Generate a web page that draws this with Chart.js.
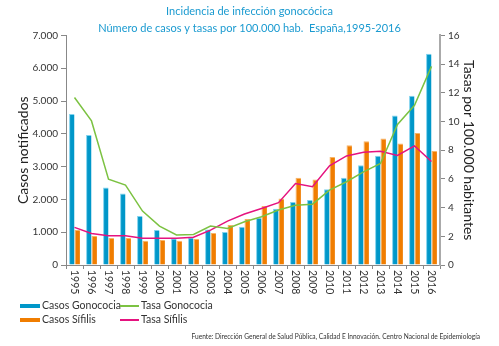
<!DOCTYPE html>
<html>
<head>
<meta charset="utf-8">
<script src="https://cdn.jsdelivr.net/npm/chart.js@4"></script>
<style>
  body { margin: 0; background: #fff; font-family: Lato, "DejaVu Sans", sans-serif; }
  #wrap { position: relative; width: 499px; height: 346px; }
  #legend { position: absolute; left: 20px; top: 299px; font-size: 10.5px; color: #333; }
  .item { position: absolute; white-space: nowrap; height: 13px; line-height: 13px; }
  .box { display: inline-block; width: 20px; height: 4px; vertical-align: middle; margin-right: 2px; }
  .ln { display: inline-block; width: 19px; height: 0; border-top: 2px solid; vertical-align: middle; margin-right: 2px; }
  #fuente { position: absolute; right: 19px; top: 332px; font-size: 6.6px; color: #333; }
</style>
</head>
<body>
<div id="wrap">
  <canvas id="grafico" width="499" height="346"></canvas>
  <div id="legend"></div>
  <div id="fuente">Fuente: Dirección General de Salud Pública, Calidad E Innovación. Centro Nacional de Epidemiología</div>
</div>
<script>
const anios = ['1995','1996','1997','1998','1999','2000','2001','2002','2003','2004','2005',
  '2006','2007','2008','2009','2010','2011','2012','2013','2014','2015','2016']
const casos_gonococia = [4600, 3960, 2364, 2181, 1491, 1065, 811, 842, 1086, 1004, 1166,
  1440, 1715, 1917, 1978, 2313, 2657, 3043, 3327, 4555, 5163, 6442]
const casos_sifilis = [1065, 883, 822, 822, 740, 761, 740, 791, 974, 1217, 1400,
  1795, 2030, 2657, 2608, 3296, 3652, 3774, 3855, 3702, 4027, 3478]
const tasa_gonococia = [11.67, 10.04, 5.98, 5.57, 3.76, 2.71, 2.09, 2.13, 2.71, 2.55, 3.01,
  3.36, 3.83, 4.17, 4.24, 5.22, 5.8, 6.49, 7.07, 9.79, 11.13, 13.84]
const tasa_sifilis = [2.62, 2.2, 2.04, 2.04, 1.86, 1.86, 1.86, 1.93, 2.43, 3.06, 3.55,
  3.94, 4.34, 5.68, 5.45, 6.91, 7.6, 7.86, 7.93, 7.63, 8.3, 7.21]

const azul = '#0097c9'
const naranja = '#f07d00'
const verde = '#7cc242'
const rosa = '#e5137f'
const fuente = 'Lato, "DejaVu Sans", sans-serif'

Chart.defaults.font.family = fuente
Chart.defaults.color = '#333'

// etiquetas del eje x giradas en sentido horario
const etiquetasX = {
    id: 'etiquetasX',
    afterDraw(chart) {
        const x = chart.scales.x
        const ctx = chart.ctx
        ctx.save()
        ctx.font = '10.5px ' + fuente
        ctx.fillStyle = '#333'
        ctx.textAlign = 'left'
        ctx.textBaseline = 'middle'
        anios.forEach((a, i) => {
            ctx.save()
            ctx.translate(x.getPixelForValue(i), x.top + 5)
            ctx.rotate(Math.PI / 2)
            ctx.fillText(a, 0, 0)
            ctx.restore()
        })
        ctx.restore()
    }
}

const ctx = document.getElementById('grafico').getContext('2d')
const chart = new Chart(ctx, {
    type: 'bar',
    data: {
        labels: anios,
        datasets: [{
            label: 'Casos Gonococia',
            data: casos_gonococia,
            backgroundColor: azul,
            borderColor: '#7fd2ee',
            borderWidth: { left: 1, top: 1, right: 0, bottom: 0 },
            categoryPercentage: 0.64,
            barPercentage: 1,
            order: 2,
            yAxisID: 'y'
        }, {
            label: 'Casos Sífilis',
            data: casos_sifilis,
            backgroundColor: naranja,
            borderColor: '#f7b466',
            borderWidth: { left: 1, top: 1, right: 0, bottom: 0 },
            categoryPercentage: 0.64,
            barPercentage: 1,
            order: 2,
            yAxisID: 'y'
        }, {
            type: 'line',
            label: 'Tasa Gonococia',
            data: tasa_gonococia,
            borderColor: verde,
            backgroundColor: verde,
            borderWidth: 1.5,
            pointRadius: 0,
            order: 0,
            yAxisID: 'y1'
        }, {
            type: 'line',
            label: 'Tasa Sífilis',
            data: tasa_sifilis,
            borderColor: rosa,
            backgroundColor: rosa,
            borderWidth: 1.5,
            pointRadius: 0,
            order: 0,
            yAxisID: 'y1'
        }]
    },
    options: {
        responsive: false,
        animation: false,
        events: [],
        layout: { padding: { left: 0, right: 0, top: 0, bottom: 51 } },
        plugins: {
            legend: { display: false },
            tooltip: { enabled: false },
            title: {
                display: true,
                text: 'Incidencia de infección gonocócica',
                color: '#1a9ad0',
                font: { size: 11, weight: 'normal' },
                padding: { top: 5, bottom: 2 }
            },
            subtitle: {
                display: true,
                text: 'Número de casos y tasas por 100.000 hab.  España,1995-2016',
                color: '#1a9ad0',
                font: { size: 11 },
                padding: { top: 2, bottom: 0 }
            }
        },
        scales: {
            x: {
                grid: { drawOnChartArea: false, color: '#888', tickLength: 4, offset: true },
                border: { color: '#888' },
                ticks: { display: false },
                afterFit(s) { s.height = 30 }
            },
            y: {
                position: 'left',
                min: 0,
                max: 7000,
                grid: { drawOnChartArea: false, color: '#888', tickLength: 5 },
                border: { color: '#888' },
                ticks: {
                    stepSize: 1000,
                    padding: 3,
                    font: { size: 10 },
                    color: '#333',
                    callback: v => v.toString().replace(/\B(?=(\d{3})+(?!\d))/g, '.')
                },
                title: {
                    display: true,
                    text: 'Casos notificados',
                    font: { size: 14 },
                    color: '#222',
                    padding: { top: 15, bottom: 0 }
                },
                afterFit(s) { s.width = 66 }
            },
            y1: {
                position: 'right',
                min: 0,
                max: 16,
                grid: { drawOnChartArea: false, color: '#888', tickLength: 5 },
                border: { color: '#aaa', width: 2 },
                ticks: { stepSize: 2, padding: 3, font: { size: 10 }, color: '#333' },
                title: {
                    display: true,
                    text: 'Tasas por 100.000 habitantes',
                    font: { size: 14 },
                    color: '#222',
                    padding: { top: 22, bottom: 0 }
                },
                afterFit(s) { s.width = 59 }
            }
        }
    },
    plugins: [etiquetasX]
})

// leyenda en dos columnas, como en el original
const leyenda = document.getElementById('legend')
const posiciones = [[0, 0], [0, 14], [100, 0], [100, 14]]
chart.data.datasets.forEach((d, i) => {
    const el = document.createElement('div')
    el.className = 'item'
    el.style.left = posiciones[i][0] + 'px'
    el.style.top = posiciones[i][1] + 'px'
    const marca = document.createElement('span')
    if (d.type === 'line') {
        marca.className = 'ln'
        marca.style.borderColor = d.borderColor
    } else {
        marca.className = 'box'
        marca.style.background = d.backgroundColor
    }
    el.appendChild(marca)
    el.appendChild(document.createTextNode(d.label))
    leyenda.appendChild(el)
})
</script>
</body>
</html>
